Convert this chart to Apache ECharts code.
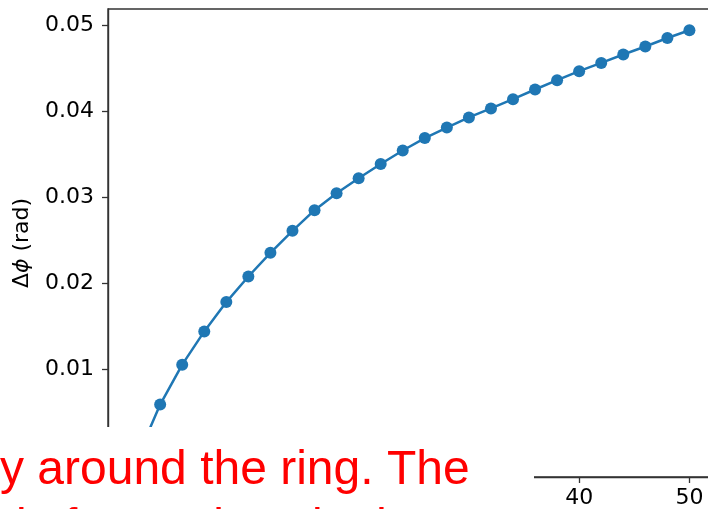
<!DOCTYPE html>
<html>
<head>
<meta charset="utf-8">
<script src="https://cdn.jsdelivr.net/npm/echarts@6/dist/echarts.min.js"></script>
<style>
  html, body { margin: 0; padding: 0; background: #fff; overflow: hidden; }
  #chart { width: 740px; height: 509px; }
</style>
</head>
<body>
<div id="chart"></div>
<script>
// Phase offset measured at each step around the ring
const steps = [0, 2, 4, 6, 8, 10, 12, 14, 16, 18, 20, 22, 24, 26, 28, 30, 32, 34, 36, 38, 40, 42, 44, 46, 48, 50];
const deltaPhi = [0.0000, 0.00594, 0.01058, 0.01444, 0.01785, 0.02082, 0.02357, 0.02612, 0.02852, 0.03049,
                  0.03223, 0.03388, 0.03545, 0.03690, 0.03812, 0.03930, 0.04034, 0.04142, 0.04254, 0.04362,
                  0.04467, 0.04563, 0.04660, 0.04753, 0.04852, 0.04942];
const xTicks = [0, 10, 20, 30, 40, 50];
const yTicks = [0.00, 0.01, 0.02, 0.03, 0.04, 0.05];
const captionLines = ['y around the ring. The', 'ric for a mirror in the DE'];

const points = steps.map((s, i) => [s, deltaPhi[i]]);

const axisFont = 'DejaVu Sans';
const frameColor = '#333';

const chart = echarts.init(document.getElementById('chart'), null, { renderer: 'canvas' });

chart.setOption({
  animation: false,
  backgroundColor: '#fff',
  grid: {
    left: 108, top: 9, width: 609, height: 469,
    show: true, borderColor: frameColor, borderWidth: 1.4, backgroundColor: 'transparent'
  },
  xAxis: {
    type: 'value',
    min: -2.73, max: 52.5,
    axisLine: { show: true, onZero: false, lineStyle: { color: frameColor, width: 1.4 } },
    axisTick: { show: true, length: 6, lineStyle: { color: frameColor, width: 1.3 }, customValues: xTicks },
    axisLabel: { show: true, margin: 10, color: '#000', fontFamily: axisFont, fontSize: 22, customValues: xTicks },
    splitLine: { show: false }
  },
  yAxis: {
    type: 'value',
    min: -0.00247, max: 0.05189,
    name: 'Δ{i|ϕ} (rad)',
    nameLocation: 'middle',
    nameGap: 75,
    nameTextStyle: {
      color: '#000', fontFamily: axisFont, fontSize: 22,
      rich: { i: { fontStyle: 'italic', fontFamily: axisFont, fontSize: 22, color: '#000' } }
    },
    axisLine: { show: true, onZero: false, lineStyle: { color: frameColor, width: 1.4 } },
    axisTick: { show: true, length: 6, lineStyle: { color: frameColor, width: 1.3 }, customValues: yTicks },
    axisLabel: {
      show: true, margin: 14, color: '#000', fontFamily: axisFont, fontSize: 22,
      customValues: yTicks,
      formatter: v => v.toFixed(2)
    },
    splitLine: { show: false }
  },
  series: [{
    type: 'line',
    data: points,
    symbol: 'circle',
    symbolSize: 12,
    showSymbol: true,
    lineStyle: { color: '#1f77b4', width: 2.5 },
    itemStyle: { color: '#1f77b4' },
    z: 3
  }],
  graphic: [
    {
      type: 'rect', z: 100,
      shape: { x: 0, y: 427, width: 534, height: 82 },
      style: { fill: '#fff' }
    },
    {
      // two-line caption block; the second line runs off the bottom edge
      type: 'text', z: 101, x: 0, y: 442,
      style: {
        text: captionLines.join('\n'), fill: '#ff0000',
        font: '48px "Liberation Sans"', lineHeight: 58,
        align: 'left', verticalAlign: 'top'
      }
    }
  ]
});
</script>
</body>
</html>
